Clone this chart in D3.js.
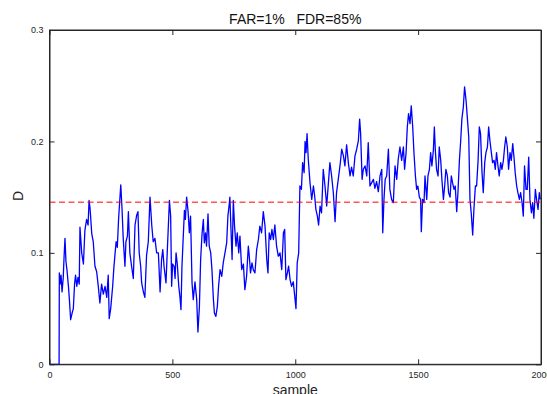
<!DOCTYPE html>
<html>
<head>
<meta charset="utf-8">
<script src="https://cdn.jsdelivr.net/npm/d3@7"></script>
<style>
  body { margin: 0; background: #fff; }
  svg { display: block; font-family: "Liberation Sans", Arial, Helvetica, sans-serif; }
  .axis text { fill: #262626; font-size: 9px; }
  .axis line, .axis path { stroke: #262626; }
</style>
</head>
<body>
<figure id="plot" style="margin:0"></figure>
<script>
// statistic D over the samples
const sampleIdx = [1, 39, 40, 43, 47, 51, 56, 59, 63, 67, 71, 77, 81, 86, 92, 97, 102, 106, 111, 116, 121, 124,
  131, 138, 144, 151, 157, 161, 165, 172, 178, 185, 192, 199, 205, 212, 219, 226, 233, 239, 243, 249, 257, 262,
  271, 276, 281, 290, 295, 300, 307, 311, 317, 321, 327, 334, 341, 348, 355, 360, 365, 371, 375, 382, 388, 395,
  402, 409, 416, 422, 429, 436, 443,
  450, 456, 461, 466, 474, 479, 488, 493, 497, 501, 507, 511, 515, 520, 526, 531, 535, 539, 545, 549, 553, 558,
  564, 569, 574, 580, 585, 592, 599, 604, 610, 615, 621, 626, 630, 635, 639, 645, 650, 656, 661, 667, 671, 677,
  683, 688, 694, 701, 707, 714, 721, 726, 732, 734, 738, 743, 748, 753, 759, 764, 770, 775, 782, 789, 795, 802,
  809, 813, 818, 824, 829, 836, 843, 850, 856, 863, 870, 877, 884, 889, 894, 900, 905, 911, 917, 924, 931,
  938, 945, 952, 957, 962, 968, 973, 979, 985, 992, 998, 1003, 1008, 1014, 1019, 1025, 1030, 1036, 1040, 1044,
  1048, 1053, 1060, 1067, 1074, 1079, 1084, 1090, 1095, 1101, 1107, 1114, 1121, 1128, 1135, 1141, 1148, 1155,
  1162, 1168, 1175, 1182, 1189, 1196, 1202, 1209, 1216, 1223, 1229, 1236, 1243, 1250, 1257, 1262, 1266, 1272,
  1277, 1284, 1291, 1297, 1304, 1311, 1318, 1324, 1331, 1338, 1345, 1352, 1356, 1361, 1366, 1372, 1379, 1385,
  1392, 1399, 1406, 1413, 1419,
  1426, 1433, 1440, 1445, 1451, 1456, 1461, 1467, 1472, 1478, 1483, 1489, 1494, 1499, 1505, 1510, 1513, 1518,
  1524, 1528, 1535, 1540, 1546, 1551, 1556, 1562, 1566, 1570, 1575, 1581, 1586, 1592, 1597, 1603, 1608, 1613,
  1619, 1624, 1630, 1635, 1640, 1646, 1651, 1657, 1662, 1668, 1673, 1678, 1684, 1689, 1695, 1700, 1706, 1711,
  1716, 1722, 1727, 1733, 1738, 1744, 1749, 1754, 1760, 1765, 1771, 1776, 1782, 1787, 1792, 1798, 1803, 1809,
  1814, 1819, 1825, 1830, 1836, 1841, 1847, 1852, 1857, 1863, 1868, 1874, 1879, 1885, 1890, 1895, 1901, 1906,
  1912, 1917, 1923, 1928, 1933, 1939, 1944, 1950, 1955, 1961, 1966, 1971, 1977, 1982, 1988, 1993, 1997];

const dValues = [0, 0, 0.082, 0.072, 0.080, 0.065, 0.078, 0.095, 0.113, 0.092, 0.085, 0.070, 0.058, 0.040, 0.046,
  0.050, 0.072, 0.080, 0.070, 0.078, 0.072, 0.123, 0.100, 0.090, 0.120, 0.130, 0.125, 0.147, 0.140, 0.117, 0.110,
  0.088, 0.083, 0.069, 0.055, 0.072, 0.063, 0.070, 0.060, 0.080, 0.041, 0.050, 0.070, 0.087, 0.110, 0.105, 0.130,
  0.161, 0.140, 0.113, 0.088, 0.110, 0.115, 0.137, 0.100, 0.088, 0.077, 0.125, 0.134, 0.137, 0.100, 0.088, 0.073,
  0.065, 0.060, 0.098, 0.110, 0.150, 0.125, 0.110, 0.113, 0.100, 0.100,
  0.065, 0.094, 0.103, 0.088, 0.073, 0.100, 0.147, 0.133, 0.070, 0.090, 0.088, 0.077, 0.100, 0.090, 0.070, 0.060,
  0.049, 0.088, 0.118, 0.138, 0.130, 0.150, 0.137, 0.118, 0.133, 0.073, 0.058, 0.074, 0.058, 0.029, 0.052, 0.094,
  0.118, 0.130, 0.109, 0.118, 0.106, 0.135, 0.106, 0.100, 0.085, 0.058, 0.046, 0.043, 0.052, 0.070, 0.085, 0.079,
  0.091, 0.100, 0.109, 0.133, 0.145, 0.150, 0.124, 0.094, 0.147, 0.124, 0.106, 0.118, 0.100, 0.115, 0.085, 0.090,
  0.067, 0.079, 0.106, 0.097, 0.082, 0.091, 0.085, 0.082, 0.103, 0.112, 0.124, 0.118, 0.137, 0.124, 0.094, 0.082,
  0.118, 0.112, 0.121, 0.112, 0.125, 0.106, 0.097,
  0.100, 0.085, 0.118, 0.121, 0.076, 0.082, 0.088, 0.076, 0.070, 0.074, 0.061, 0.050, 0.091, 0.100, 0.160, 0.157,
  0.181, 0.172, 0.200, 0.190, 0.207, 0.184, 0.163, 0.148, 0.160, 0.151, 0.139, 0.133, 0.125, 0.142, 0.136, 0.175,
  0.160, 0.142, 0.163, 0.181, 0.169, 0.154, 0.128, 0.154, 0.166, 0.178, 0.193, 0.187, 0.178, 0.197, 0.181, 0.169,
  0.177, 0.169, 0.187, 0.193, 0.201, 0.220, 0.207, 0.166, 0.175, 0.178, 0.169, 0.199, 0.160, 0.163, 0.166, 0.158,
  0.164, 0.155, 0.169, 0.175, 0.118, 0.148, 0.166, 0.169, 0.193, 0.157, 0.148, 0.145, 0.178, 0.166, 0.184,
  0.195, 0.183, 0.195, 0.175, 0.190, 0.213, 0.225, 0.216, 0.232, 0.213, 0.190, 0.169, 0.157, 0.160, 0.150, 0.148,
  0.119, 0.148, 0.145, 0.169, 0.148, 0.169, 0.175, 0.190, 0.178, 0.192, 0.213, 0.192, 0.175, 0.169, 0.195, 0.183,
  0.165, 0.148, 0.160, 0.175, 0.169, 0.154, 0.150, 0.169, 0.163, 0.157, 0.160, 0.137, 0.154, 0.183, 0.200, 0.220,
  0.231, 0.249, 0.237, 0.222, 0.204, 0.148, 0.136, 0.116, 0.139, 0.160, 0.160, 0.183, 0.213, 0.207, 0.172, 0.154,
  0.181, 0.190, 0.195, 0.213, 0.201, 0.190, 0.181, 0.183, 0.175, 0.190, 0.178, 0.169, 0.181, 0.175, 0.183, 0.195,
  0.204, 0.195, 0.175, 0.190, 0.183, 0.198, 0.186, 0.172, 0.160, 0.154, 0.148, 0.154, 0.145, 0.133, 0.178, 0.157,
  0.157, 0.186, 0.148, 0.136, 0.145, 0.131, 0.157, 0.148, 0.139, 0.154, 0.148];

const threshold = 0.1455;           // control limit
const xTicks = [0, 500, 1000, 1500, 2000];
const yTicks = [0, 0.1, 0.2, 0.3];
const titleText = "FAR=1%   FDR=85%";

const width = 547, height = 394;
const mLeft = 49.5, mRight = 541, mTop = 30, mBottom = 364.3;

const svg = d3.select("figure#plot")
  .append("svg")
  .attr("width", width)
  .attr("height", height);

const x = d3.scaleLinear().domain([0, 2000]).range([mLeft, mRight]);
const y = d3.scaleLinear().domain([0, 0.3]).range([mBottom, mTop]);

// axes, MATLAB style: ticks pointing in, on all four sides
svg.append("g")
  .attr("class", "axis")
  .attr("transform", "translate(0," + mBottom + ")")
  .call(d3.axisBottom(x).tickValues(xTicks).tickSizeInner(-5).tickSizeOuter(0).tickPadding(7).tickFormat(d3.format("d")));

svg.append("g")
  .attr("class", "axis")
  .attr("transform", "translate(" + mLeft + ",0)")
  .call(d3.axisLeft(y).tickValues(yTicks).tickSizeInner(-5).tickSizeOuter(0).tickPadding(6).tickFormat(d => d === 0 ? "0" : d3.format(".1f")(d)));

svg.append("g")
  .attr("class", "axis")
  .attr("transform", "translate(0," + mTop + ")")
  .call(d3.axisTop(x).tickValues(xTicks).tickSizeInner(-5).tickSizeOuter(0).tickFormat(""));

svg.append("g")
  .attr("class", "axis")
  .attr("transform", "translate(" + mRight + ",0)")
  .call(d3.axisRight(y).tickValues(yTicks).tickSizeInner(-5).tickSizeOuter(0).tickFormat(""));

// the series
const pts = sampleIdx.map((s, i) => [s, dValues[i]]);
svg.append("path")
  .datum(pts)
  .attr("fill", "none")
  .attr("stroke", "#0000ff")
  .attr("stroke-width", 1.3)
  .attr("stroke-linejoin", "round")
  .attr("d", d3.line().x(d => x(d[0])).y(d => y(d[1])));

// threshold line
svg.append("line")
  .attr("x1", x(0)).attr("x2", x(2000))
  .attr("y1", y(threshold)).attr("y2", y(threshold))
  .attr("stroke", "#ff0000")
  .attr("stroke-width", 1)
  .attr("stroke-dasharray", "6,3.5");

// box
svg.append("rect")
  .attr("x", mLeft).attr("y", mTop)
  .attr("width", mRight - mLeft).attr("height", mBottom - mTop)
  .attr("fill", "none")
  .attr("stroke", "#262626")
  .attr("stroke-width", 1);

// labels
svg.append("text")
  .attr("x", (mLeft + mRight) / 2).attr("y", 24)
  .attr("text-anchor", "middle")
  .style("font-size", "14px")
  .attr("fill", "#111")
  .style("white-space", "pre")
  .text(titleText);

svg.append("text")
  .attr("x", (mLeft + mRight) / 2).attr("y", 395)
  .attr("text-anchor", "middle")
  .style("font-size", "14px")
  .attr("fill", "#262626")
  .text("sample");

svg.append("text")
  .attr("transform", "translate(23,196)rotate(-90)")
  .attr("text-anchor", "middle")
  .style("font-size", "14px")
  .attr("fill", "#262626")
  .text("D");
</script>
</body>
</html>
